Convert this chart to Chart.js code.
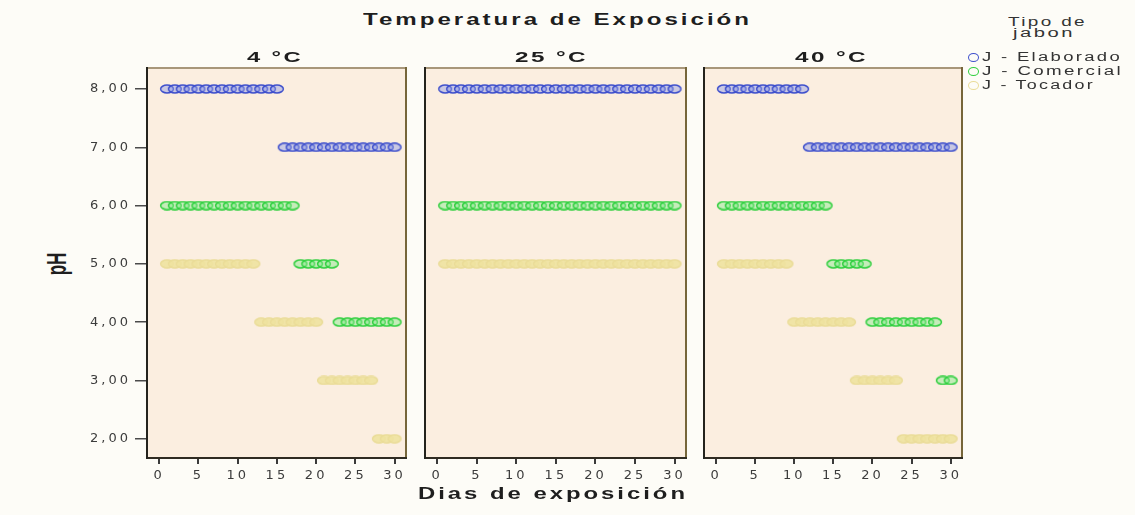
<!DOCTYPE html>
<html>
<head>
<meta charset="utf-8">
<title>pH según días de exposición</title>
<script src="https://cdn.jsdelivr.net/npm/chart.js@4.4.1/dist/chart.umd.min.js"></script>
<style>
  html, body { margin: 0; padding: 0; background: #fdfcf7; }
  #page { position: relative; width: 1135px; height: 515px; overflow: hidden;
          font-family: "Liberation Sans", Arial, sans-serif; color: #222; }
  .lbl { position: absolute; white-space: nowrap; transform-origin: 0 50%; }
  canvas { position: absolute; }
  .mk { position: absolute; border-radius: 50%; box-sizing: border-box; }
</style>
</head>
<body>
<div id="page"></div>
<script>
// ---- data ----
const days = [1,2,3,4,5,6,7,8,9,10,11,12,13,14,15,16,17,18,19,20,21,22,23,24,25,26,27,28,29,30];
const xTicks = [0, 5, 10, 15, 20, 25, 30];
const yTicks = [2, 3, 4, 5, 6, 7, 8];
const panelNames = ['4 °C', '25 °C', '40 °C'];
const soapNames = ['J - Elaborado', 'J - Comercial', 'J - Tocador'];

// pH por día, 4 °C
const ph4Elaborado = [8,8,8,8,8,8,8,8,8,8,8,8,8,8,8,7,7,7,7,7,7,7,7,7,7,7,7,7,7,7];
const ph4Comercial = [6,6,6,6,6,6,6,6,6,6,6,6,6,6,6,6,6,5,5,5,5,5,4,4,4,4,4,4,4,4];
const ph4Tocador   = [5,5,5,5,5,5,5,5,5,5,5,5,4,4,4,4,4,4,4,4,3,3,3,3,3,3,3,2,2,2];
// pH por día, 25 °C
const ph25Elaborado = [8,8,8,8,8,8,8,8,8,8,8,8,8,8,8,8,8,8,8,8,8,8,8,8,8,8,8,8,8,8];
const ph25Comercial = [6,6,6,6,6,6,6,6,6,6,6,6,6,6,6,6,6,6,6,6,6,6,6,6,6,6,6,6,6,6];
const ph25Tocador   = [5,5,5,5,5,5,5,5,5,5,5,5,5,5,5,5,5,5,5,5,5,5,5,5,5,5,5,5,5,5];
// pH por día, 40 °C
const ph40Elaborado = [8,8,8,8,8,8,8,8,8,8,8,7,7,7,7,7,7,7,7,7,7,7,7,7,7,7,7,7,7,7];
const ph40Comercial = [6,6,6,6,6,6,6,6,6,6,6,6,6,6,5,5,5,5,5,4,4,4,4,4,4,4,4,4,3,3];
const ph40Tocador   = [5,5,5,5,5,5,5,5,5,4,4,4,4,4,4,4,4,3,3,3,3,3,3,2,2,2,2,2,2,2];

const panelSeries = [
  [ph4Elaborado, ph4Comercial, ph4Tocador],
  [ph25Elaborado, ph25Comercial, ph25Tocador],
  [ph40Elaborado, ph40Comercial, ph40Tocador]
];

// ---- styles ----
const soapStroke = ['#3f50cc', '#2fcf3e', '#eadc98'];
const soapFill   = ['rgba(140,152,230,0.45)', 'rgba(130,232,140,0.45)', 'rgba(238,226,160,0.9)'];
const plotBg = '#fbeee0';

// ---- layout ----
const AREA_TOP = 68, AREA_BOTTOM = 458;
const panelBoxes = [[147, 406], [424, 686], [703, 962]];
const X_MIN = -1.55, X_MAX = 31.45;
const Y_MIN = 1.67, Y_MAX = 8.36;
const Y_AXIS_W = 62, X_AXIS_H = 32;
const PAD = { left: 4, right: 18, top: 18, bottom: 2 };

const page = document.getElementById('page');

// wide oval marker, as the hollow circles of the original chart look
function ovalMarker(stroke, fill) {
  const c = document.createElement('canvas');
  c.width = 16; c.height = 10;
  const g = c.getContext('2d');
  g.beginPath();
  g.ellipse(8, 5, 6.4, 3.9, 0, 0, Math.PI * 2);
  g.fillStyle = fill; g.fill();
  g.lineWidth = 1.5; g.strokeStyle = stroke; g.stroke();
  return c;
}
const soapMarkers = soapStroke.map((s, i) => ovalMarker(s, soapFill[i]));

// background + frame of each panel
const panelFrame = {
  id: 'panelFrame',
  beforeDraw(chart) {
    const { ctx, chartArea: a } = chart;
    ctx.save();
    ctx.fillStyle = plotBg;
    ctx.fillRect(a.left, a.top, a.right - a.left, a.bottom - a.top);
    ctx.restore();
    ctx.letterSpacing = '3px';
  },
  afterDatasetsDraw(chart) {
    const { ctx, chartArea: a } = chart;
    ctx.save();
    ctx.lineWidth = 2;
    const side = (c, x1, y1, x2, y2) => {
      ctx.strokeStyle = c; ctx.beginPath(); ctx.moveTo(x1, y1); ctx.lineTo(x2, y2); ctx.stroke();
    };
    side('#a8977a', a.left, a.top, a.right, a.top);
    side('#76663a', a.right, a.top - 1, a.right, a.bottom + 1);
    side('#2f2b22', a.left - 1, a.bottom, a.right + 1, a.bottom);
    side('#24231d', a.left, a.top - 1, a.left, a.bottom + 1);
    ctx.restore();
  }
};

function makePanel(idx) {
  const showY = idx === 0;
  const [L, R] = panelBoxes[idx];
  const yw = showY ? Y_AXIS_W : 0;
  const canvas = document.createElement('canvas');
  canvas.width = yw + PAD.left + (R - L) + PAD.right;
  canvas.height = PAD.top + (AREA_BOTTOM - AREA_TOP) + X_AXIS_H + PAD.bottom;
  canvas.style.left = (L - yw - PAD.left) + 'px';
  canvas.style.top = (AREA_TOP - PAD.top) + 'px';
  page.appendChild(canvas);

  const datasets = panelSeries[idx].map((vals, s) => ({
    label: soapNames[s],
    data: days.map((d, i) => ({ x: d, y: vals[i] })),
    pointStyle: soapMarkers[s],
    borderColor: soapStroke[s],
    backgroundColor: soapFill[s],
    showLine: false
  }));

  return new Chart(canvas, {
    type: 'scatter',
    data: { datasets },
    options: {
      responsive: false,
      animation: false,
      devicePixelRatio: 1,
      events: [],
      clip: false,
      layout: { padding: PAD },
      plugins: { legend: { display: false }, tooltip: { enabled: false } },
      scales: {
        x: {
          type: 'linear', min: X_MIN, max: X_MAX,
          afterBuildTicks: s => { s.ticks = xTicks.map(v => ({ value: v })); },
          afterFit: s => { s.height = X_AXIS_H; },
          border: { display: false },
          grid: { display: true, drawOnChartArea: false, drawTicks: true, tickLength: 6,
                  color: '#3a3a3a', lineWidth: 2 },
          ticks: { autoSkip: false, maxRotation: 0, padding: 4, color: '#3c3c3c',
                   font: { family: 'DejaVu Sans', size: 13 } }
        },
        y: {
          type: 'linear', min: Y_MIN, max: Y_MAX, display: showY,
          afterBuildTicks: s => { s.ticks = yTicks.map(v => ({ value: v })); },
          afterFit: s => { s.width = showY ? Y_AXIS_W : 0; },
          border: { display: false },
          grid: { display: true, drawOnChartArea: false, drawTicks: true, tickLength: 12,
                  color: '#4a4a4a', lineWidth: 1.5 },
          ticks: { padding: 4, color: '#3c3c3c', font: { family: 'DejaVu Sans', size: 13 },
                   callback: v => v.toFixed(2).replace('.', ',') }
        }
      }
    },
    plugins: [panelFrame]
  });
}

panelNames.forEach((_, i) => makePanel(i));

// ---- text ----
const labels = [];
function addLabel(text, opts) {
  const el = document.createElement('div');
  el.className = 'lbl';
  el.textContent = text;
  el.style.fontSize = opts.size + 'px';
  el.style.fontWeight = opts.bold ? 'bold' : 'normal';
  el.style.letterSpacing = (opts.spacing || 0) + 'px';
  el.style.color = opts.color || '#222';
  el.style.lineHeight = opts.size + 'px';
  el.style.left = opts.left + 'px';
  el.style.top = (opts.cy - opts.size / 2) + 'px';
  page.appendChild(el);
  labels.push({ el, width: opts.width });
  return el;
}
function fitLabels() {
  labels.forEach(({ el, width }) => {
    el.style.transform = 'none';
    const w = el.getBoundingClientRect().width;
    if (w > 0) el.style.transform = 'scaleX(' + (width / w) + ')';
  });
}

addLabel('Temperatura de Exposición', { size: 16, bold: true, spacing: 2, left: 363, cy: 20, width: 389, color: '#1e1e1e' });
const headerBoxes = [[247, 56], [515, 73], [795, 73]];
panelNames.forEach((n, i) => addLabel(n, { size: 15, bold: true, spacing: 1.5, left: headerBoxes[i][0], cy: 56, width: headerBoxes[i][1], color: '#1e1e1e' }));
addLabel('Dias de exposición', { size: 16, bold: true, spacing: 2, left: 418, cy: 494, width: 270, color: '#1e1e1e' });

// y-axis title, rotated
const yTitle = document.createElement('div');
yTitle.textContent = 'pH';
Object.assign(yTitle.style, {
  position: 'absolute', left: '57px', top: '264px', fontSize: '17px', fontWeight: 'bold',
  lineHeight: '17px', whiteSpace: 'nowrap', color: '#1e1e1e',
  transform: 'translate(-50%, -50%) rotate(-90deg) scaleY(1.6)', transformOrigin: '50% 50%'
});
page.appendChild(yTitle);

// legend
addLabel('Tipo de', { size: 12, spacing: 1.5, left: 1008, cy: 22, width: 79, color: '#333' });
addLabel('jabon', { size: 12, spacing: 1.5, left: 1013, cy: 33, width: 62, color: '#333' });
const legendRows = [57, 71, 85];
const legendWidths = [140, 141, 113];
soapNames.forEach((n, i) => {
  const mk = document.createElement('div');
  mk.className = 'mk';
  Object.assign(mk.style, {
    left: (973 - 5.5) + 'px', top: (legendRows[i] - 4.5) + 'px', width: '11px', height: '9px',
    border: '1.5px solid ' + soapStroke[i]
  });
  page.appendChild(mk);
  addLabel(n, { size: 12, spacing: 1.5, left: 982, cy: legendRows[i], width: legendWidths[i], color: '#333' });
});

fitLabels();
if (document.fonts && document.fonts.ready) document.fonts.ready.then(fitLabels);
</script>
</body>
</html>
